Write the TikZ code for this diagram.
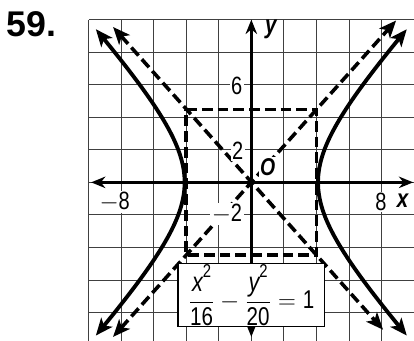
\documentclass[tikz,border=0pt]{standalone}
\usepackage{fontspec}
\usepackage{amsmath}
\setmainfont{Liberation Sans}
\newfontfamily\condfont{Liberation Sans}[FakeStretch=0.8]
\newcommand\suptwo{\raisebox{0.55em}{\fontsize{13}{13}\selectfont 2}}
\usetikzlibrary{arrows.meta}
\begin{document}
\begin{tikzpicture}[x=0.4cm,y=0.4cm,
  gridline/.style={black!75, line width=0.6pt},
  axisline/.style={line width=2pt, {Stealth[length=10pt,width=8pt]}-{Stealth[length=10pt,width=8pt]}},
  curveline/.style={line width=2.7pt, {Stealth[length=12pt,width=10pt,inset=3pt]}-{Stealth[length=12pt,width=10pt,inset=3pt]}},
  dashline/.style={line width=2.5pt, dash pattern=on 7.5pt off 3.5pt},
  asymline/.style={dashline, {Stealth[length=12pt,width=10pt,inset=3pt]}-{Stealth[length=12pt,width=10pt,inset=3pt]}},
  lbl/.style={font=\condfont\fontsize{17.5}{19}\selectfont, inner sep=1pt, fill=white},
  eqbox/.style={draw, line width=1.1pt, fill=white, minimum width=3.6cm, minimum height=1.55cm, inner sep=0pt,
    font=\condfont\fontsize{18}{20}\selectfont}]
\useasboundingbox (-15.45,-9.71) rectangle (10.0,11.21);
% grid
\begin{scope}
\clip (-10.05,-9.71) rectangle (10.05,10.05);
\foreach \gx in {-10,-8,...,10} \draw[gridline] (\gx,-10) -- (\gx,10);
\foreach \gy in {-8,-6,...,10} \draw[gridline] (-10,\gy) -- (10,\gy);
\end{scope}
% axes
\coordinate (xl) at (-9.85,0);
\coordinate (xr) at (9.95,0);
\coordinate (yb) at (0,-9.5);
\coordinate (yt) at (0,10);
\draw[axisline] (xl) -- (xr);
\draw[axisline] (yb) -- (yt);
% box
\coordinate (b1) at (-4,4.47);
\coordinate (b2) at (4,4.47);
\coordinate (b3) at (4,-4.47);
\coordinate (b4) at (-4,-4.47);
\draw[dashline] (b1) -- (b2) -- (b3) -- (b4) -- cycle;
% asymptotes
\coordinate (a1) at (-8.5,9.55);
\coordinate (a2) at (8.1,-9.06);
\coordinate (a3) at (-8.5,-9.5);
\coordinate (a4) at (8.9,9.95);
\draw[asymline] (a1) -- (a2);
\draw[asymline] (a3) -- (a4);
% hyperbola
\draw[curveline] plot[domain=-1.49:1.49, samples=80, variable=\t] ({4.1*cosh(\t)}, {sqrt(20)*sinh(\t)});
\draw[curveline] plot[domain=-1.49:1.49, samples=80, variable=\t] ({-4.1*cosh(\t)}, {sqrt(20)*sinh(\t)});
% labels
\node[lbl] (l6) at (-0.9,5.93) {6};
\node[lbl] (l2) at (-0.84,1.95) {2};
\node[lbl] (lm2) at (-1.5,-1.95) {$-$2};
\node[lbl] (lm8) at (-8.4,-1.2) {$-$8};
\node[lbl] (l8) at (7.97,-1.2) {8};
\node[lbl, fill=none, font=\condfont\bfseries\itshape\fontsize{18}{19}\selectfont] (lx) at (9.3,-1.1) {x};
\node[lbl, fill=none, font=\condfont\bfseries\itshape\fontsize{18}{19}\selectfont] (ly) at (1.2,9.4) {y};
\node[lbl, font=\condfont\bfseries\itshape\fontsize{17}{18}\selectfont] (lo) at (1.0,0.95) {O};
\node[font=\bfseries\fontsize{25}{26}\selectfont, inner sep=0pt] (num) at (-13.5,9.72) {59.};
% equation
\node[eqbox] (eq) at (0,-6.93) {$\dfrac{\mbox{\fontsize{19}{20}\selectfont\itshape x}\mbox{\suptwo}}{\mbox{16}} - \dfrac{\mbox{\fontsize{19}{20}\selectfont\itshape y}\mbox{\suptwo}}{\mbox{20}} = \mbox{1}$};
\end{tikzpicture}
\end{document}
